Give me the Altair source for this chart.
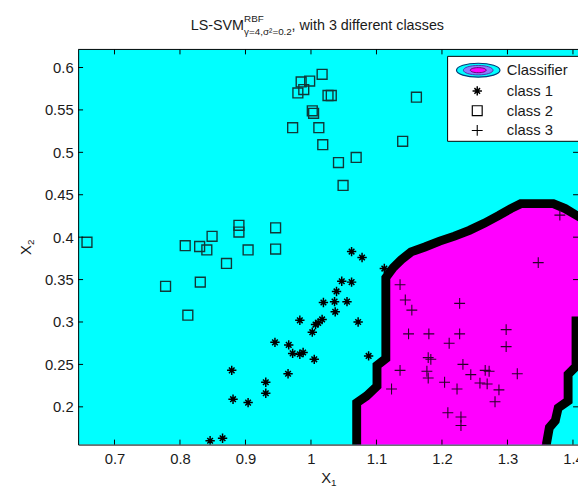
import altair as alt
import pandas as pd

FONT = "Liberation Sans"

# ---- data ----
c1_x = [1.062, 1.078, 1.112, 1.047, 1.062, 1.039, 1.019, 1.036, 1.055, 1.037, 0.983,
        1.017, 1.011, 1.007, 1.002, 1.072, 0.945, 0.966, 0.972, 0.983, 0.988, 1.005,
        1.088, 0.879, 0.965, 0.931, 0.931, 0.881, 0.904, 0.846, 0.865]
c1_y = [0.383, 0.376, 0.363, 0.348, 0.347, 0.336, 0.323, 0.324, 0.324, 0.312, 0.302,
        0.303, 0.299, 0.297, 0.288, 0.300, 0.276, 0.273, 0.263, 0.262, 0.264, 0.256,
        0.260, 0.243, 0.239, 0.229, 0.216, 0.209, 0.205, 0.160, 0.163]

c2_x = [1.017, 0.985, 0.998, 0.989, 0.980, 1.026, 1.031, 1.161, 1.002, 1.004, 0.972,
        1.012, 1.018, 1.140, 1.042, 1.069, 1.049, 0.658, 0.808, 0.830, 0.849, 0.841,
        0.890, 0.890, 0.904, 0.946, 0.946, 0.871, 0.778, 0.831, 0.812]
c2_y = [0.592, 0.583, 0.584, 0.574, 0.570, 0.567, 0.567, 0.565, 0.549, 0.546, 0.529,
        0.529, 0.509, 0.513, 0.488, 0.494, 0.461, 0.394, 0.390, 0.389, 0.401, 0.385,
        0.414, 0.406, 0.385, 0.411, 0.386, 0.369, 0.342, 0.347, 0.308]

c3_x = [1.347, 1.136, 1.144, 1.154, 1.227, 1.149, 1.180, 1.227, 1.211, 1.298, 1.298,
        1.179, 1.183, 1.136, 1.177, 1.179, 1.232, 1.244, 1.266, 1.272, 1.315, 1.258,
        1.269, 1.287, 1.204, 1.223, 1.123, 1.281, 1.209, 1.229, 1.229, 1.380]
c3_y = [0.370, 0.344, 0.326, 0.314, 0.322, 0.286, 0.286, 0.286, 0.275, 0.291, 0.271,
        0.258, 0.256, 0.243, 0.242, 0.234, 0.250, 0.238, 0.243, 0.242, 0.239, 0.228,
        0.227, 0.220, 0.229, 0.221, 0.221, 0.206, 0.193, 0.188, 0.178, 0.426]

# decision boundary of class 3 region (traced contour)
bnd_x = [1.0698, 1.0698, 1.0849, 1.1008, 1.1008, 1.1143, 1.1143, 1.1256, 1.1377, 1.1528,
         1.1739, 1.1965, 1.2192, 1.2418, 1.2644, 1.2870, 1.3051, 1.3202, 1.3700, 1.3881,
         1.4032, 1.4303, 1.4529, 1.4303, 1.4047, 1.4047, 1.3926, 1.3926, 1.3775, 1.3730,
         1.3640, 1.3594, 1.3519]
bnd_y = [0.1291, 0.2047, 0.2128, 0.2244, 0.2488, 0.2570, 0.3523, 0.3640, 0.3733, 0.3826,
         0.3884, 0.3953, 0.4012, 0.4081, 0.4163, 0.4256, 0.4337, 0.4395, 0.4395, 0.4337,
         0.4267, 0.4151, 0.3500, 0.3012, 0.3012, 0.2477, 0.2384, 0.2070, 0.1988, 0.1837,
         0.1756, 0.1558, 0.1291]

x_ticks = [0.7, 0.8, 0.9, 1.0, 1.1, 1.2, 1.3, 1.4]
y_ticks = [0.2, 0.25, 0.3, 0.35, 0.4, 0.45, 0.5, 0.55, 0.6]

title_main = "LS-SVM"
title_sup = "RBF"
title_sub = "γ=4,σ²=0.2"
title_rest = ", with 3 different classes"
legend_labels = ["Classifier", "class 1", "class 2", "class 3"]

W, H = 506, 400
XDOM = [0.6445, 1.4077]
YDOM = [0.1555, 0.6213]

xs = alt.Scale(domain=XDOM, nice=False, zero=False)
ys = alt.Scale(domain=YDOM, nice=False, zero=False)
xaxis = alt.Axis(values=x_ticks, format="~g", grid=False, ticks=False, domain=True,
                 domainColor="black", labelFont=FONT, labelFontSize=15,
                 labelColor="#1a1a1a", labelPadding=7, title=None)
yaxis = alt.Axis(values=y_ticks, format="~g", grid=False, ticks=False, domain=True,
                 domainColor="black", labelFont=FONT, labelFontSize=15,
                 labelColor="#1a1a1a", labelPadding=5, title=None)
X = alt.X("x:Q", scale=xs, axis=xaxis)
Y = alt.Y("y:Q", scale=ys, axis=yaxis)

region = pd.DataFrame({"x": bnd_x, "y": bnd_y, "i": list(range(len(bnd_x)))})
d1 = pd.DataFrame({"x": c1_x, "y": c1_y})
d2 = pd.DataFrame({"x": c2_x, "y": c2_y})
d3 = pd.DataFrame({"x": c3_x, "y": c3_y})

region_layer = alt.Chart(region).mark_line(
    fill="#ff00ff", stroke="black", strokeWidth=9, interpolate="linear-closed",
    clip=True, strokeJoin="miter"
).encode(x=X, y=Y, order="i:Q")

STAR = "M-1,0L1,0M0,-1L0,1M-0.6,-0.6L0.6,0.6M-0.6,0.6L0.6,-0.6"
PLUS = "M-1,0L1,0M0,-1L0,1"

p1 = alt.Chart(d1).mark_point(shape=STAR, size=90, filled=False, stroke="black",
                              strokeWidth=1.5, opacity=1, clip=True).encode(x=X, y=Y)
p2 = alt.Chart(d2).mark_point(shape="square", size=100, filled=False, stroke="#103838",
                              strokeWidth=1.4, opacity=1, clip=True).encode(x=X, y=Y)
p3 = alt.Chart(d3).mark_point(shape=PLUS, size=121, filled=False, stroke="#2a002a",
                              strokeWidth=1.1, opacity=1, clip=True).encode(x=X, y=Y)

# inward tick marks
tx = pd.DataFrame({"x": x_ticks})
ty = pd.DataFrame({"y": y_ticks})
tick_bottom = alt.Chart(tx).mark_rule(color="black").encode(x=X, y=alt.value(H - 5), y2=alt.value(H))
tick_top = alt.Chart(tx).mark_rule(color="black").encode(x=X, y=alt.value(0), y2=alt.value(5))
tick_left = alt.Chart(ty).mark_rule(color="black").encode(y=Y, x=alt.value(0), x2=alt.value(5))
tick_right = alt.Chart(ty).mark_rule(color="black").encode(y=Y, x=alt.value(W - 5), x2=alt.value(W))

one = pd.DataFrame({"t": [""]})
top_border = alt.Chart(one).mark_rule(color="black").encode(
    x=alt.value(0), x2=alt.value(W), y=alt.value(0))


def txt(s, x, y, size, angle=0, align="left"):
    return alt.Chart(pd.DataFrame({"t": [s]})).mark_text(
        align=align, baseline="alphabetic", font=FONT, fontSize=size,
        color="#1a1a1a", angle=angle
    ).encode(x=alt.value(x), y=alt.value(y), text="t:N")


# legend box (plot coordinates)
LX, LY0, LY1 = 374, 7, 93
leg_bg = alt.Chart(one).mark_rect(fill="white", stroke=None).encode(
    x=alt.value(LX), x2=alt.value(W), y=alt.value(LY0), y2=alt.value(LY1))
leg_edges = [
    alt.Chart(one).mark_rule(color="black").encode(x=alt.value(LX), x2=alt.value(W), y=alt.value(LY0)),
    alt.Chart(one).mark_rule(color="black").encode(x=alt.value(LX), x2=alt.value(W), y=alt.value(LY1)),
    alt.Chart(one).mark_rule(color="black").encode(x=alt.value(LX), y=alt.value(LY0), y2=alt.value(LY1)),
]
ELL = "M-1,0A1,0.32,0,1,1,1,0A1,0.32,0,1,1,-1,0Z"
rows = [21, 42, 62, 82]
ell = [
    alt.Chart(one).mark_point(shape=ELL, size=1936, filled=True, fill="#00ffff", stroke="#003c7a",
                              strokeWidth=1.2, opacity=1).encode(x=alt.value(405), y=alt.value(rows[0])),
    alt.Chart(one).mark_point(shape=ELL, size=900, filled=True, fill="#8a7cff", stroke="#4a3ab0",
                              strokeWidth=1, opacity=1).encode(x=alt.value(405), y=alt.value(rows[0])),
    alt.Chart(one).mark_point(shape=ELL, size=256, filled=True, fill="#ff00ff", stroke="#6a006a",
                              strokeWidth=1, opacity=1).encode(x=alt.value(405), y=alt.value(rows[0])),
]
leg_syms = [
    alt.Chart(one).mark_point(shape=STAR, size=90, filled=False, stroke="black", strokeWidth=1.5,
                              opacity=1).encode(x=alt.value(404), y=alt.value(rows[1])),
    alt.Chart(one).mark_point(shape="square", size=100, filled=False, stroke="black", strokeWidth=1.2,
                              opacity=1).encode(x=alt.value(404), y=alt.value(rows[2])),
    alt.Chart(one).mark_point(shape=PLUS, size=121, filled=False, stroke="black", strokeWidth=1.1,
                              opacity=1).encode(x=alt.value(404), y=alt.value(rows[3])),
]
leg_txt = [txt(s, 434, r + 5, 15) for s, r in zip(legend_labels, rows)]

# title and axis titles
titles = [
    txt(title_main, 114, -20, 14.5),
    txt(title_sup, 168, -28, 10),
    txt(title_sub, 168, -15, 10),
    txt(title_rest, 216, -20, 14.5),
    txt("X", 246, 439, 15),
    txt("1", 256, 442, 10),
    txt("X", -48, 208, 15, angle=270),
    txt("2", -45, 198, 10, angle=270),
]

chart = alt.layer(
    region_layer, p1, p2, p3,
    tick_bottom, tick_top, tick_left, tick_right, top_border,
    leg_bg, *leg_edges, *ell, *leg_syms, *leg_txt, *titles
).properties(
    width=W, height=H,
    autosize=alt.AutoSizeParams(type="none"),
    padding={"left": 71, "top": 39, "right": 0, "bottom": 40},
).configure_view(fill="#00ffff", stroke=None).configure_axis(grid=False)

chart.save("out.html", embed_options={"renderer": "svg", "actions": False})
